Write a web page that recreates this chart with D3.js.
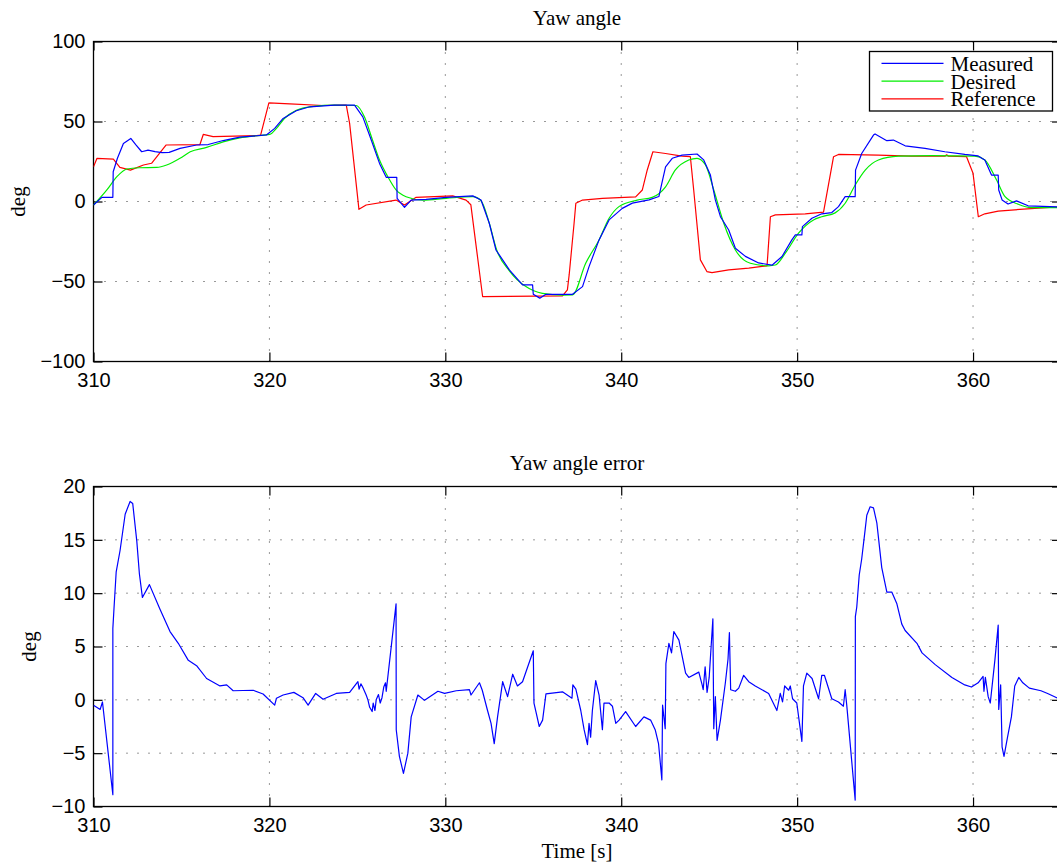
<!DOCTYPE html>
<html>
<head>
<meta charset="utf-8">
<script src="https://cdn.jsdelivr.net/npm/d3@7"></script>
<style>
  body { margin: 0; background: #fff; }
  text.serif { font-family: "Liberation Serif", "Times New Roman", serif; fill: #000; }
  .tick text { font-family: "Liberation Sans", Arial, sans-serif; font-size: 20px; fill: #000; }
</style>
</head>
<body>
<div id="chart"></div>
<script>
// time [s], angle [deg]
var measured = [
  [310, -2.2], [310.48, 2.6], [311.1, 2.6], [311.12, 18.6], [311.36, 27], [311.7, 36.3], [312.12, 39.4],
  [312.4, 35.5], [312.74, 31.1], [313.1, 32.1], [313.5, 31.2], [313.9, 30.5], [314.3, 30.7], [314.92, 33.2],
  [315.86, 35.3], [316.52, 35.6], [317.37, 38.1], [318.32, 40.2], [319.83, 41.6], [320.3, 45.7], [320.78, 51.9],
  [321.53, 56.7], [322.29, 59.2], [323.7, 60.2], [324.84, 60.2], [325.31, 52.9], [325.79, 38.4], [326.26, 23.8],
  [326.64, 15.1], [327.24, 15.1], [327.26, 2], [327.68, -3.6], [328.06, 0.9], [328.91, 1.3], [330.05, 2.6],
  [331.56, 3.5], [332.03, 0.9], [332.5, -13.6], [332.88, -30.3], [333.64, -42.7], [334.39, -52.1], [334.96, -52.1],
  [335.0, -58], [335.37, -60.4], [335.72, -58], [337.23, -58], [337.8, -53.2], [338.17, -40.7], [338.74, -24],
  [339.31, -11.5], [340.06, -4.3], [340.63, -1], [341.58, 1], [342.14, 3.1], [342.33, 12.4], [342.52, 21.7],
  [342.9, 27], [343.46, 29], [344.31, 29.7], [344.69, 26], [345.07, 16.5], [345.35, 1], [345.64, -9.5],
  [346.11, -17.8], [346.49, -29.2], [347.06, -34.3], [347.81, -38.4], [348.57, -39.8], [349.14, -34.4],
  [349.7, -24], [349.9, -20.9], [350.27, -20.9], [350.3, -15.7], [350.84, -10.5], [351.4, -7.7], [351.97, -6.9],
  [352.35, -3.2], [352.73, 3], [353.3, 3], [353.32, 19.6], [353.67, 30], [354.34, 41.5], [354.43, 42.2],
  [355.1, 38], [355.47, 38.4], [356.14, 34.8], [357.27, 33.2], [358.4, 31.1], [359.53, 29.4], [360.29, 28.5],
  [360.67, 26], [361.05, 16.5], [361.43, 16.5], [361.46, 7.2], [361.65, 1], [361.99, -1.6], [362.47, 0.4],
  [363.13, -2.7], [365, -3.5]
];

var desired = [
  [310, -2.2], [310.76, 7.2], [311.33, 15.5], [311.9, 20.3], [312.6, 21.1], [313.6, 21.3], [314.16, 22.8],
  [314.92, 27], [315.5, 31.1], [316.43, 33.8], [317.37, 37.3], [318.32, 39.8], [319.27, 41.1], [320.02, 41.9],
  [320.4, 45.7], [320.85, 51.9], [321.53, 57], [322.5, 59.5], [323.7, 60.2], [324.94, 60], [325.4, 52.9],
  [325.86, 38.4], [326.26, 25.9], [326.73, 15.5], [327.2, 7.2], [327.77, 3], [328.72, 0.9], [330.05, 2],
  [331.56, 3], [332.03, 0.5], [332.5, -13.6], [332.92, -30.3], [333.64, -43.3], [334.58, -53.2], [335.52, -57.4],
  [336.66, -58.5], [337.23, -58.4], [337.98, -38.6], [338.74, -24], [339.31, -10.5], [339.87, -3.2],
  [340.9, 0.9], [341.76, 2.6], [342.52, 9.2], [343.08, 19.7], [343.84, 25.9], [344.31, 27], [344.79, 22.8],
  [345.26, 7.2], [345.83, -13.6], [346.49, -30.3], [347.34, -38.6], [348.38, -40.2], [348.76, -39.7],
  [349.33, -32.3], [350.08, -19.8], [350.93, -11.5], [351.4, -9.5], [352.16, -7.1], [352.73, -1.1],
  [353.3, 10.3], [353.87, 19.6], [354.62, 25.9], [355.76, 28.3], [357.65, 28.7], [360.1, 28.3], [360.67, 26],
  [361.34, 13.4], [361.82, 3], [362.57, -1.7], [363.32, -3.8], [365, -3.8]
];

var reference = [
  [310, 21.7], [310.2, 27], [311.13, 26.5], [311.5, 21.3], [312.1, 19.6], [312.84, 22.8], [313.3, 23.9],
  [314.12, 35.3], [316.05, 35.6], [316.24, 41.9], [316.8, 40.6], [319.27, 41.2], [319.5, 41.5], [319.97, 61.7],
  [321.16, 61], [323.05, 60], [324.37, 60.2], [324.56, 48.8], [325.09, -4.9], [325.5, -2.2], [327.2, 0.9],
  [327.68, -2.2], [328.34, 2.6], [330.42, 3.5], [331.18, 0.9], [331.45, -2], [332.12, -59.4], [336.66, -59],
  [336.94, -55.2], [337.04, -45.9], [337.32, -13.6], [337.42, -1.1], [337.8, 0.9], [338.93, 1.9], [340.82, 2.9],
  [341.2, 7.2], [341.48, 19.7], [341.8, 31.1], [342.52, 30], [343.46, 28.4], [343.93, 28], [344.12, 7.2],
  [344.5, -36.5], [344.87, -43.8], [345.16, -44.5], [346.11, -42.7], [347.25, -41.6], [348.29, -40.2],
  [348.48, -9.5], [348.76, -8.4], [350.46, -7.7], [351.5, -6.7], [352.07, 28], [352.35, 29.4], [354.6, 29],
  [356.5, 28.3], [358.4, 28.3], [358.5, 29.2], [358.6, 28.3], [359.63, 28], [360.0, 17.6], [360.3, -9.5],
  [360.67, -7.7], [361.43, -6], [363.3, -4.4], [365, -3.3]
];

var yawError = [
  [310, -0.5], [310.38, -0.9], [310.51, -0.2], [311.1, -8.9], [311.1, 6.7], [311.17, 8.7], [311.29, 12],
  [311.51, 14], [311.8, 17.4], [312.08, 18.6], [312.23, 18.4], [312.46, 14.9], [312.61, 11.8], [312.78, 9.6],
  [313.18, 10.8], [313.78, 8.5], [314.35, 6.4], [314.82, 5.3], [315.39, 3.7], [315.86, 3.2], [316.43, 2],
  [317.19, 1.3], [317.57, 1.4], [317.94, 0.85], [319.08, 0.9], [319.64, 0.55], [320.3, -0.5], [320.4, 0.15],
  [320.78, 0.45], [321.39, 0.7], [321.91, 0.2], [322.2, -0.5], [322.63, 0.6], [323.05, 0.05], [323.8, 0.6],
  [324.56, 0.7], [325.03, 1.7], [325.1, 1.0], [325.2, 1.5], [325.3, 1.2], [325.5, 0.45], [325.6, 0.0],
  [325.7, -0.7], [325.84, -1.1], [325.9, -0.3], [326.0, -1.0], [326.07, 0], [326.2, 0.5], [326.3, -0.3],
  [326.4, 0.2], [326.5, 1.2], [326.6, 1.6], [326.64, 0.8], [327.2, 9.0], [327.21, -2.8], [327.39, -5.3],
  [327.62, -6.9], [327.87, -5], [328.06, -1.6], [328.44, 0.45], [328.82, -0.05], [329.58, 0.8], [329.96, 0.6],
  [330.62, 0.85], [331.37, 0.95], [331.46, 0.45], [331.94, 1.6], [332.1, 0.9], [332.4, -1], [332.6, -2.2],
  [332.78, -4.1], [332.97, -1.6], [333.26, 1.7], [333.54, 0.3], [333.83, 2.4], [334.1, 1.3], [334.39, 1.7],
  [335.0, 4.6], [335.04, -0.3], [335.15, -1.1], [335.34, -2.5], [335.53, -1.9], [335.72, 0.55], [336.66, 0.75],
  [337.2, 0.15], [337.25, 1.4], [337.42, 1.0], [337.7, -1], [337.89, -2.8], [338.08, -4.2], [338.17, -2.2],
  [338.26, -3.5], [338.36, -1], [338.55, 1.8], [338.74, 0.45], [338.93, -2.8], [339.02, -0.3], [339.31, -0.3],
  [339.5, -0.6], [339.69, -2.2], [339.88, -1.9], [340.25, -1.1], [340.82, -2.5], [341.29, -1.6], [341.67, -1.9],
  [341.93, -2.8], [342.12, -4.1], [342.31, -7.5], [342.35, -0.5], [342.5, -2.7], [342.54, 3.4], [342.71, 5.3],
  [342.86, 4.4], [342.99, 6.4], [343.28, 5.6], [343.66, 2.5], [343.84, 2.1], [344.41, 2.6], [344.6, 1.4],
  [344.66, 0.95], [344.77, 3.1], [344.88, 0.7], [345.0, 2.1], [345.21, 7.6], [345.26, -2.7], [345.35, 0.3],
  [345.45, -3.8], [345.64, -1.9], [345.92, 1.6], [346.07, 3.8], [346.15, 6.3], [346.22, 0.95], [346.49, 0.8],
  [346.68, 1.1], [346.96, 2.3], [347.25, 1.7], [347.62, 1.3], [348.38, 0.6], [348.85, -1], [349.04, 0.6],
  [349.17, -0.2], [349.29, 1.3], [349.52, 0.9], [349.61, 1.3], [349.74, 0.1], [349.98, -0.3], [350.27, -3.9],
  [350.36, 1.3], [350.55, 2.5], [350.85, 2], [351.22, 0.1], [351.4, 2.3], [351.55, 2.3], [351.97, 0.1],
  [352.35, -0.2], [352.63, -0.6], [352.73, 0.95], [352.82, -0.5], [353.3, -9.4], [353.31, 7.8], [353.39, 8.7],
  [353.53, 11.7], [353.67, 13.2], [353.87, 16], [353.96, 17.3], [354.15, 18.1], [354.34, 18.0], [354.53, 16.6],
  [354.81, 12.4], [355.1, 10.1], [355.38, 10.1], [355.67, 9.0], [355.95, 7.1], [356.14, 6.5], [356.81, 5.3],
  [357.1, 4.4], [357.85, 3.3], [358.8, 2.1], [359.53, 1.4], [359.91, 1.2], [360.29, 1.6], [360.57, 2.2],
  [360.62, 0.8], [360.7, 2.1], [360.86, 0.3], [360.98, -0.3], [361.24, 3.7], [361.43, 7.0], [361.46, -0.9],
  [361.57, 1.4], [361.65, -4.4], [361.76, -5.3], [361.95, -3.6], [362.18, -1.6], [362.37, 1.3], [362.6, 2.1],
  [362.83, 1.6], [363.2, 1.1], [363.86, 0.85], [364.24, 0.6], [365, 0.0]
];

var xTicks = [310, 320, 330, 340, 350, 360];
var yTicksTop = [-100, -50, 0, 50, 100];
var yTicksBottom = [-10, -5, 0, 5, 10, 15, 20];
var legendNames = ["Measured", "Desired", "Reference"];
var legendColors = ["#0000ff", "#00ee00", "#ff0000"];

var W = 1057, H = 868;
var svg = d3.select("#chart").append("svg").attr("width", W).attr("height", H);

var x = d3.scaleLinear().domain([310, 365]).range([93.5, 1061]);

function panel(top, bottom, yDomain, yTicks, title, titleY, ylabX) {
  var y = d3.scaleLinear().domain(yDomain).range([bottom, top]);
  var g = svg.append("g");

  // grid
  g.selectAll(".vgrid").data(xTicks.slice(1)).enter().append("line")
    .attr("x1", function (d) { return x(d); }).attr("x2", function (d) { return x(d); })
    .attr("y1", top).attr("y2", bottom)
    .attr("stroke", "#333").attr("stroke-width", 1).attr("stroke-dasharray", "1,10");
  g.selectAll(".hgrid").data(yTicks.slice(1, -1)).enter().append("line")
    .attr("x1", x.range()[0]).attr("x2", x.range()[1])
    .attr("y1", function (d) { return y(d); }).attr("y2", function (d) { return y(d); })
    .attr("stroke", "#333").attr("stroke-width", 1).attr("stroke-dasharray", "1,10");

  // axes (ticks inward)
  var xb = g.append("g").attr("transform", "translate(0," + bottom + ")")
    .call(d3.axisBottom(x).tickValues(xTicks).tickSizeInner(-9).tickSizeOuter(0).tickPadding(11).tickFormat(d3.format("d")));
  var xt = g.append("g").attr("transform", "translate(0," + top + ")")
    .call(d3.axisTop(x).tickValues(xTicks).tickSizeInner(-9).tickSizeOuter(0).tickFormat(""));
  var yl = g.append("g").attr("transform", "translate(" + x.range()[0] + ",0)")
    .call(d3.axisLeft(y).tickValues(yTicks).tickSizeInner(-9).tickSizeOuter(0).tickPadding(8));
  var yr = g.append("g").attr("transform", "translate(" + x.range()[1] + ",0)")
    .call(d3.axisRight(y).tickValues(yTicks).tickSizeInner(-9).tickSizeOuter(0).tickFormat(""));
  [xb, xt, yl, yr].forEach(function (a) {
    a.select(".domain").remove();
    a.selectAll(".tick line").attr("stroke", "#000").attr("stroke-width", 1.2);
  });

  // frame
  g.append("rect").attr("x", x.range()[0]).attr("y", top)
    .attr("width", x.range()[1] - x.range()[0]).attr("height", bottom - top)
    .attr("fill", "none").attr("stroke", "#000").attr("stroke-width", 1.3);

  g.append("text").attr("class", "serif").attr("x", 577).attr("y", titleY)
    .attr("text-anchor", "middle").attr("font-size", 21).text(title);
  g.append("text").attr("class", "serif")
    .attr("transform", "translate(" + ylabX + "," + (top + bottom) / 2 + ") rotate(-90)")
    .attr("text-anchor", "middle").attr("font-size", 21).text("deg");

  g.append("defs").append("clipPath").attr("id", "clip" + top)
    .append("rect").attr("x", x.range()[0]).attr("y", top)
    .attr("width", x.range()[1] - x.range()[0]).attr("height", bottom - top);
  var plot = g.append("g").attr("clip-path", "url(#clip" + top + ")");
  return { y: y, plot: plot };
}

var p1 = panel(41.5, 361.5, [-100, 100], yTicksTop, "Yaw angle", 25, 25);
var p2 = panel(486.5, 806.5, [-10, 20], yTicksBottom, "Yaw angle error", 470, 36);

function drawLine(p, data, color, curve) {
  var line = d3.line()
    .x(function (d) { return x(d[0]); })
    .y(function (d) { return p.y(d[1]); })
    .curve(curve || d3.curveLinear);
  p.plot.append("path").datum(data)
    .attr("d", line).attr("fill", "none")
    .attr("stroke", color).attr("stroke-width", 1.2)
    .attr("stroke-linejoin", "round");
}

drawLine(p1, reference, legendColors[2]);
drawLine(p1, desired, legendColors[1], d3.curveMonotoneX);
drawLine(p1, measured, legendColors[0]);
drawLine(p2, yawError, "#0000ff");

// x label
svg.append("text").attr("class", "serif").attr("x", 577).attr("y", 858)
  .attr("text-anchor", "middle").attr("font-size", 21).text("Time [s]");

// legend
var lg = svg.append("g");
lg.append("rect").attr("x", 869.5).attr("y", 51.5).attr("width", 183).attr("height", 59.5)
  .attr("fill", "#fff").attr("stroke", "#000").attr("stroke-width", 1.3);
legendNames.forEach(function (name, i) {
  var yy = 63.3 + i * 17.8;
  lg.append("line").attr("x1", 881.5).attr("x2", 943.5).attr("y1", yy).attr("y2", yy)
    .attr("stroke", legendColors[i]).attr("stroke-width", 1.2);
  lg.append("text").attr("class", "serif").attr("x", 950.5).attr("y", yy + 7.5)
    .attr("font-size", 21).text(name);
});
</script>
</body>
</html>
